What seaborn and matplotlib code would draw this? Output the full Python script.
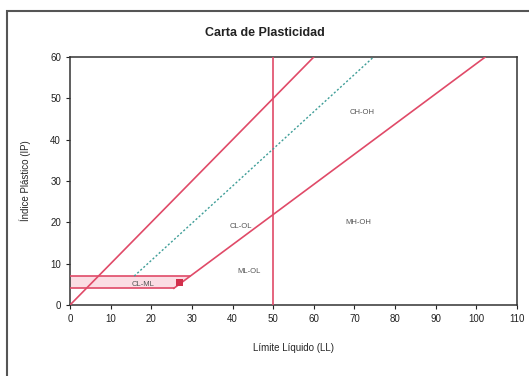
import seaborn as sns
import matplotlib.pyplot as plt
from matplotlib.patches import Rectangle

# linea A: IP = 0.73 (LL - 20), desde la banda CL-ML hasta IP = 60
a_ll = [25.5, 102.2]
a_ip = [4, 60]
# linea U: IP = 0.9 (LL - 8)
u_ll = [15.8, 74.7]
u_ip = [7, 60]
# limite superior IP = LL
top_ll = [0, 60]
top_ip = [0, 60]
# LL = 50
v_ll = [50, 50]
v_ip = [0, 60]
# banda CL-ML (IP 4 a 7)
band_low_ll = [0, 25.5]
band_low_ip = [4, 4]
band_high_ll = [0, 29.6]
band_high_ip = [7, 7]
band_fill_ll = [0, 25.5, 29.6, 0]
band_fill_ip = [4, 4, 7, 7]
# muestra
sample_ll = [27]
sample_ip = [5.5]

zone_names = ['CH-OH', 'MH-OH', 'CL-OL', 'ML-OL', 'CL-ML']
zone_ll = [72, 71, 42, 44, 18]
zone_ip = [46.5, 20, 19, 8, 5]

red = '#e04a68'
teal = '#3f9e98'

sns.set_style("white")
plt.rcParams['font.family'] = ['Liberation Sans', 'DejaVu Sans']

fig = plt.figure(figsize=(5.29, 3.76), dpi=100)
ax = fig.add_axes([70 / 529, 1 - 305 / 376, 447 / 529, 248 / 376])

ax.fill(band_fill_ll, band_fill_ip, color='#fbdde4', lw=0, zorder=1)

line_kw = dict(ax=ax, color=red, lw=1.2, sort=False, estimator=None, zorder=3)
sns.lineplot(x=a_ll, y=a_ip, **line_kw)
sns.lineplot(x=top_ll, y=top_ip, **line_kw)
sns.lineplot(x=v_ll, y=v_ip, **line_kw)
sns.lineplot(x=band_low_ll, y=band_low_ip, **line_kw)
sns.lineplot(x=band_high_ll, y=band_high_ip, **line_kw)
sns.lineplot(x=u_ll, y=u_ip, ax=ax, color=teal, lw=1.0, linestyle=(0, (1.5, 1.5)),
             sort=False, estimator=None, zorder=3)
sns.scatterplot(x=sample_ll, y=sample_ip, ax=ax, color='#d2304c', marker='s', s=22,
                edgecolor='none', zorder=4)

for name, x, y in zip(zone_names, zone_ll, zone_ip):
    ax.text(x, y, name, fontsize=5.5, color='#555555', ha='center', va='center', zorder=5)

ax.set_xlim(0, 110)
ax.set_ylim(0, 60)
ax.set_xticks(range(0, 111, 10))
ax.set_yticks(range(0, 61, 10))
ax.tick_params(axis='both', labelsize=7, colors='#222222', length=3, width=0.8,
               direction='out', left=True, bottom=True)
for s in ax.spines.values():
    s.set_color('#333333')
    s.set_linewidth(1.1)

ax.set_xlabel('Límite Líquido (LL)', fontsize=7, labelpad=14)
ax.set_ylabel('Índice Plástico (IP)', fontsize=7, labelpad=14)
fig.text(0.5, 1 - 33 / 376, 'Carta de Plasticidad', fontsize=9, fontweight='bold',
         ha='center', va='center', color='#222222')

# marco exterior
fig.patches.append(Rectangle((7 / 529, -0.2), 1.2, 1 - 11 / 376 + 0.2,
                             transform=fig.transFigure, fill=False,
                             edgecolor='#555555', lw=1.5))

fig.savefig('out.png', dpi=100)
